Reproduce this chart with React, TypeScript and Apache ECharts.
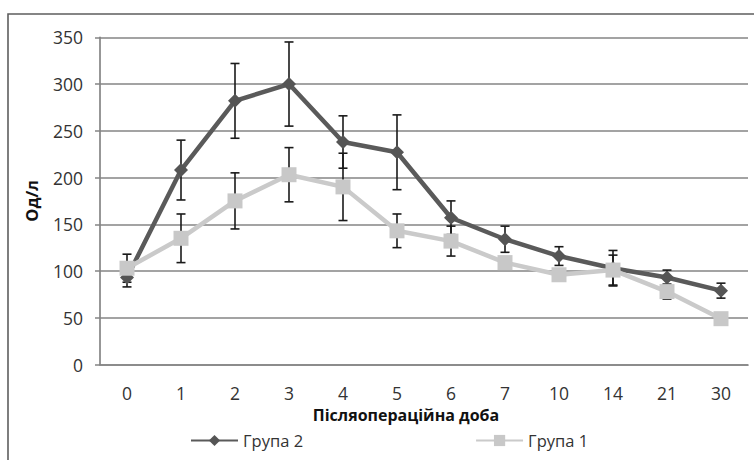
import React, { useEffect, useRef } from "react";
import * as echarts from "echarts";

const days = ["0", "1", "2", "3", "4", "5", "6", "7", "10", "14", "21", "30"];
const group2 = [93, 208, 282, 300, 238, 227, 157, 134, 116, 103, 93, 79];
const group2Err = [10, 32, 40, 45, 28, 40, 18, 14, 10, 19, 8, 8];
const group1 = [103, 135, 175, 203, 190, 143, 132, 109, 96, 101, 78, 49];
const group1Err = [15, 26, 30, 29, 36, 18, 16, 6, 5, 16, 8, 3];
const yTicks = { min: 0, max: 350, interval: 50 };

const FONT = "'Open Sans', 'Noto Sans', sans-serif";

function errData(mean: number[], err: number[]) {
  return mean.map((m, i) => [i, m - err[i], m + err[i]]);
}

function renderErr(params: any, api: any) {
  const x = api.value(0);
  const lo = api.coord([x, api.value(1)]);
  const hi = api.coord([x, api.value(2)]);
  const h = 4.5;
  const st = { stroke: "#1a1a1a", lineWidth: 1.6 };
  return {
    type: "group",
    children: [
      { type: "line", shape: { x1: lo[0], y1: lo[1], x2: hi[0], y2: hi[1] }, style: st },
      { type: "line", shape: { x1: lo[0] - h, y1: lo[1], x2: lo[0] + h, y2: lo[1] }, style: st },
      { type: "line", shape: { x1: hi[0] - h, y1: hi[1], x2: hi[0] + h, y2: hi[1] }, style: st },
    ],
  };
}

export default function App() {
  const ref = useRef<HTMLDivElement>(null);
  useEffect(() => {
    if (!ref.current) return;
    const chart = echarts.init(ref.current, null, { renderer: "svg" });
    const gridColor = "#858585";
    chart.setOption({
      animation: false,
      backgroundColor: "#ffffff",
      textStyle: { fontFamily: FONT },
      grid: { left: 100, right: 6, top: 37.3, bottom: 95.5 },
      legend: {
        left: 190,
        top: 432,
        padding: 0,
        itemGap: 172,
        itemWidth: 47,
        itemHeight: 14,
        data: ["Група 2", "Група 1"],
        textStyle: { fontSize: 16.5, color: "#333", fontFamily: FONT, lineHeight: 16 },
      },
      graphic: [
        {
          type: "rect",
          shape: { x: 8, y: 14, width: 780, height: 480 },
          style: { fill: "none", stroke: "#5e5e5e", lineWidth: 1.6 },
          silent: true,
        },
        {
          type: "text",
          x: 406,
          y: 414.5,
          style: {
            text: "Післяопераційна доба",
            fontFamily: FONT,
            fontSize: 16,
            fontWeight: "bold",
            fill: "#111",
            textAlign: "center",
            textVerticalAlign: "middle",
          },
        },
      ],
      xAxis: {
        type: "category",
        data: days,
        boundaryGap: true,
        axisLine: { lineStyle: { color: gridColor, width: 1.7 } },
        axisTick: { alignWithLabel: true, length: 5, lineStyle: { color: gridColor, width: 1.5 } },
        axisLabel: { margin: 20, fontSize: 17.5, lineHeight: 17, color: "#333", fontFamily: FONT },
        splitLine: { show: false },
      },
      yAxis: {
        type: "value",
        min: yTicks.min,
        max: yTicks.max,
        interval: yTicks.interval,
        name: "Од/л",
        nameLocation: "middle",
        nameGap: 60,
        nameTextStyle: { fontSize: 16.5, fontWeight: "bold", color: "#111", fontFamily: FONT },
        axisLine: { show: true, lineStyle: { color: gridColor, width: 1.7 } },
        axisTick: { show: true, length: 5, lineStyle: { color: gridColor, width: 1.5 } },
        axisLabel: { margin: 17, fontSize: 17.5, color: "#333", fontFamily: FONT },
        splitLine: { lineStyle: { color: gridColor, width: 1.7 } },
      },
      series: [
        {
          type: "custom",
          name: "err2",
          renderItem: renderErr,
          data: errData(group2, group2Err),
          encode: { x: 0, y: [1, 2] },
          z: 1,
          silent: true,
        },
        {
          type: "custom",
          name: "err1",
          renderItem: renderErr,
          data: errData(group1, group1Err),
          encode: { x: 0, y: [1, 2] },
          z: 1,
          silent: true,
        },
        {
          type: "line",
          name: "Група 2",
          data: group2,
          z: 3,
          symbol: "diamond",
          symbolSize: 14,
          lineStyle: { color: "#5a5a5a", width: 4.5 },
          itemStyle: { color: "#555555", borderWidth: 0 },
        },
        {
          type: "line",
          name: "Група 1",
          data: group1,
          z: 4,
          symbol: "rect",
          symbolSize: 15,
          lineStyle: { color: "#cacaca", width: 4.5 },
          itemStyle: { color: "#c8c8c8", borderWidth: 0 },
        },
      ],
    });
    return () => chart.dispose();
  }, []);
  return (
    <div
      ref={ref}
      style={{ position: "fixed", left: 0, top: 0, width: 754, height: 460 }}
    />
  );
}
